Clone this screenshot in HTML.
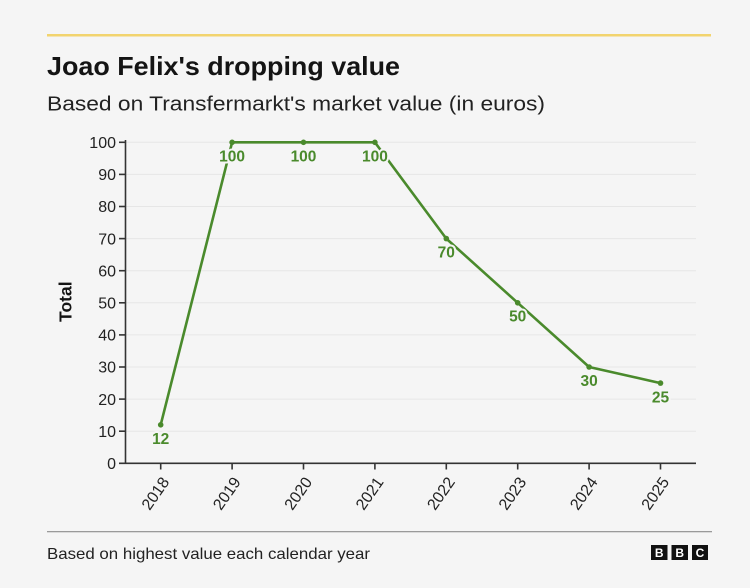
<!DOCTYPE html>
<html>
<head>
<meta charset="utf-8">
<style>
  html, body { margin: 0; padding: 0; background: #f5f5f5; }
  svg { display: block; }
  text { font-family: "Liberation Sans", "DejaVu Sans", sans-serif; }
</style>
</head>
<body>
<svg width="750" height="588" viewBox="0 0 750 588" xmlns="http://www.w3.org/2000/svg">
  <rect x="0" y="0" width="750" height="588" fill="#f5f5f5"/>
  <!-- top yellow rule -->
  <rect x="47" y="34" width="664" height="2.5" fill="#f2d46e"/>
  <!-- title / subtitle -->
  <text x="47" y="75" font-size="26" font-weight="bold" fill="#141414" textLength="353" lengthAdjust="spacingAndGlyphs">Joao Felix's dropping value</text>
  <text x="47" y="110.5" font-size="20" fill="#222" textLength="498" lengthAdjust="spacingAndGlyphs">Based on Transfermarkt's market value (in euros)</text>

  <!-- gridlines -->
  <g stroke="#e6e6e6" stroke-width="1">
    <line x1="126" x2="696" y1="142.3" y2="142.3"/>
    <line x1="126" x2="696" y1="174.4" y2="174.4"/>
    <line x1="126" x2="696" y1="206.5" y2="206.5"/>
    <line x1="126" x2="696" y1="238.6" y2="238.6"/>
    <line x1="126" x2="696" y1="270.7" y2="270.7"/>
    <line x1="126" x2="696" y1="302.8" y2="302.8"/>
    <line x1="126" x2="696" y1="334.9" y2="334.9"/>
    <line x1="126" x2="696" y1="367.0" y2="367.0"/>
    <line x1="126" x2="696" y1="399.1" y2="399.1"/>
    <line x1="126" x2="696" y1="431.2" y2="431.2"/>
  </g>

  <!-- axes -->
  <g stroke="#333" stroke-width="1.6" fill="none">
    <line x1="125.5" x2="125.5" y1="140" y2="463.3"/>
    <line x1="119" x2="696" y1="463.3" y2="463.3"/>
    <!-- y ticks -->
    <line x1="119" x2="125.5" y1="142.3" y2="142.3"/>
    <line x1="119" x2="125.5" y1="174.4" y2="174.4"/>
    <line x1="119" x2="125.5" y1="206.5" y2="206.5"/>
    <line x1="119" x2="125.5" y1="238.6" y2="238.6"/>
    <line x1="119" x2="125.5" y1="270.7" y2="270.7"/>
    <line x1="119" x2="125.5" y1="302.8" y2="302.8"/>
    <line x1="119" x2="125.5" y1="334.9" y2="334.9"/>
    <line x1="119" x2="125.5" y1="367.0" y2="367.0"/>
    <line x1="119" x2="125.5" y1="399.1" y2="399.1"/>
    <line x1="119" x2="125.5" y1="431.2" y2="431.2"/>
    <!-- x ticks -->
    <line x1="160.7" x2="160.7" y1="463.3" y2="469.5"/>
    <line x1="232.1" x2="232.1" y1="463.3" y2="469.5"/>
    <line x1="303.5" x2="303.5" y1="463.3" y2="469.5"/>
    <line x1="374.9" x2="374.9" y1="463.3" y2="469.5"/>
    <line x1="446.3" x2="446.3" y1="463.3" y2="469.5"/>
    <line x1="517.7" x2="517.7" y1="463.3" y2="469.5"/>
    <line x1="589.1" x2="589.1" y1="463.3" y2="469.5"/>
    <line x1="660.5" x2="660.5" y1="463.3" y2="469.5"/>
  </g>

  <!-- y tick labels -->
  <g font-size="16" fill="#222" text-anchor="end">
    <text x="116" y="148">100</text>
    <text x="116" y="180.1">90</text>
    <text x="116" y="212.2">80</text>
    <text x="116" y="244.3">70</text>
    <text x="116" y="276.4">60</text>
    <text x="116" y="308.5">50</text>
    <text x="116" y="340.6">40</text>
    <text x="116" y="372.7">30</text>
    <text x="116" y="404.8">20</text>
    <text x="116" y="436.9">10</text>
    <text x="116" y="469">0</text>
  </g>

  <!-- y axis title -->
  <text transform="translate(71.5,301.7) rotate(-90)" font-size="17.5" font-weight="bold" fill="#141414" text-anchor="middle">Total</text>

  <!-- x tick labels -->
  <g font-size="16" fill="#222" text-anchor="end">
    <text transform="translate(170,482) rotate(-55)">2018</text>
    <text transform="translate(241.4,482) rotate(-55)">2019</text>
    <text transform="translate(312.8,482) rotate(-55)">2020</text>
    <text transform="translate(384.2,482) rotate(-55)">2021</text>
    <text transform="translate(455.6,482) rotate(-55)">2022</text>
    <text transform="translate(527,482) rotate(-55)">2023</text>
    <text transform="translate(598.4,482) rotate(-55)">2024</text>
    <text transform="translate(669.8,482) rotate(-55)">2025</text>
  </g>

  <!-- series line -->
  <polyline fill="none" stroke="#4a8a2c" stroke-width="2.6" stroke-linejoin="round"
    points="160.7,424.8 232.1,142.3 303.5,142.3 374.9,142.3 446.3,238.6 517.7,302.8 589.1,367.0 660.5,383.1"/>
  <g fill="#4a8a2c">
    <circle cx="160.7" cy="424.8" r="2.8"/>
    <circle cx="232.1" cy="142.3" r="2.8"/>
    <circle cx="303.5" cy="142.3" r="2.8"/>
    <circle cx="374.9" cy="142.3" r="2.8"/>
    <circle cx="446.3" cy="238.6" r="2.8"/>
    <circle cx="517.7" cy="302.8" r="2.8"/>
    <circle cx="589.1" cy="367.0" r="2.8"/>
    <circle cx="660.5" cy="383.1" r="2.8"/>
  </g>

  <!-- data labels -->
  <g font-size="15.5" font-weight="bold" fill="#4a8a2c" text-anchor="middle" stroke="#f5f5f5" stroke-width="4" paint-order="stroke" stroke-linejoin="round">
    <text x="160.7" y="444">12</text>
    <text x="232.1" y="161.5">100</text>
    <text x="303.5" y="161.5">100</text>
    <text x="374.9" y="161.5">100</text>
    <text x="446.3" y="257.5">70</text>
    <text x="517.7" y="321.7">50</text>
    <text x="589.1" y="386">30</text>
    <text x="660.5" y="402.5">25</text>
  </g>

  <!-- bottom rule -->
  <rect x="47" y="531" width="665" height="1.3" fill="#9a9a9a"/>
  <!-- footer -->
  <text x="47" y="559" font-size="16" fill="#222" textLength="323" lengthAdjust="spacingAndGlyphs">Based on highest value each calendar year</text>

  <!-- BBC logo -->
  <g>
    <rect x="651" y="545" width="16.5" height="15" fill="#111"/>
    <rect x="671.5" y="545" width="16.5" height="15" fill="#111"/>
    <rect x="692" y="545" width="16" height="15" fill="#111"/>
    <g font-size="12" font-weight="bold" fill="#fff" text-anchor="middle">
      <text x="659.25" y="557">B</text>
      <text x="679.75" y="557">B</text>
      <text x="700" y="557">C</text>
    </g>
  </g>
</svg>
</body>
</html>
